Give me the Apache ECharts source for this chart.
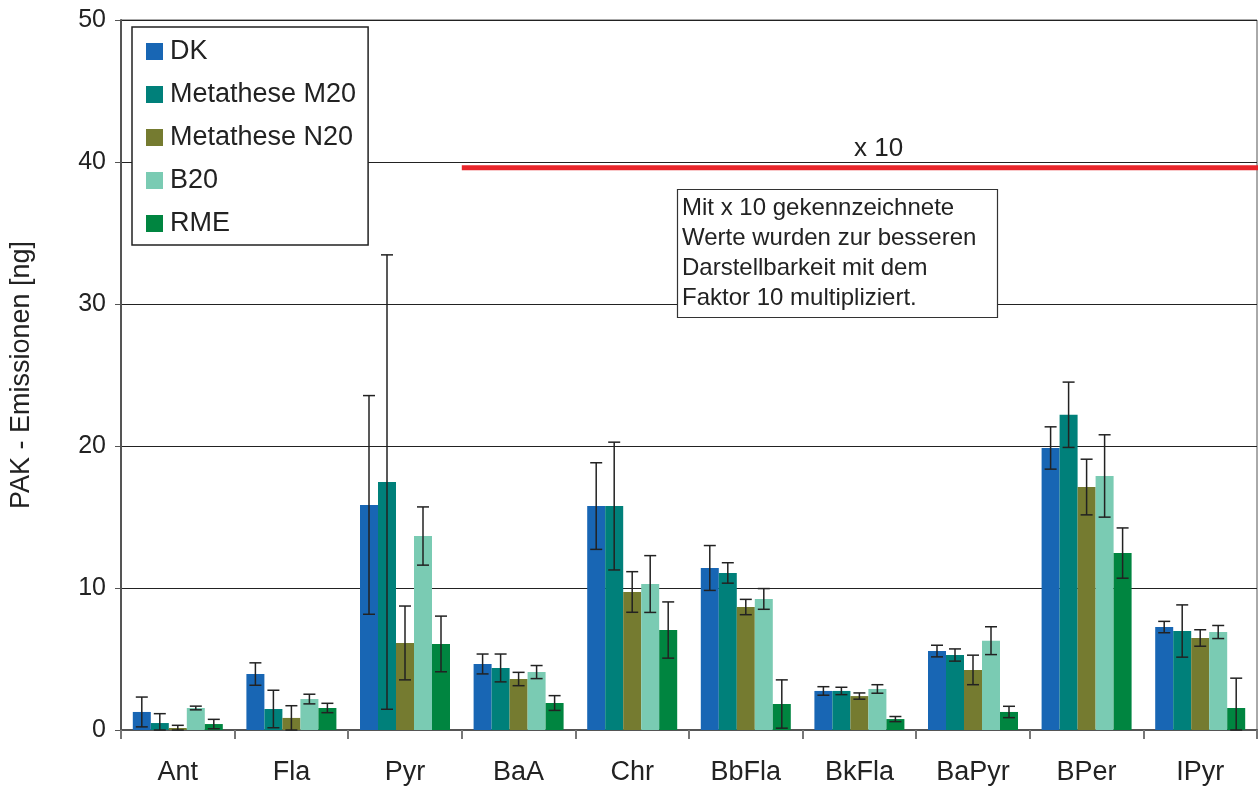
<!DOCTYPE html>
<html>
<head>
<meta charset="utf-8">
<script src="https://cdn.jsdelivr.net/npm/echarts@6/dist/echarts.min.js"></script>
<style>
  html, body { margin: 0; padding: 0; background: #fff; }
  #main { width: 1258px; height: 787px; }
</style>
</head>
<body>
<div id="main"></div>
<script>
var categories = ['Ant', 'Fla', 'Pyr', 'BaA', 'Chr', 'BbFla', 'BkFla', 'BaPyr', 'BPer', 'IPyr'];
var seriesNames = ['DK', 'Metathese M20', 'Metathese N20', 'B20', 'RME'];
var colors = ['#1866b4', '#00807a', '#757b30', '#7acbb3', '#008540'];

var dk = [1.27, 3.94, 15.85, 4.65, 15.77, 11.41, 2.75, 5.56, 19.86, 7.25];
var dkErr = [1.05, 0.79, 7.7, 0.7, 3.05, 1.58, 0.3, 0.41, 1.49, 0.4];
var m20 = [0.49, 1.48, 17.46, 4.37, 15.77, 11.06, 2.75, 5.28, 22.2, 6.97];
var m20Err = [0.66, 1.32, 16.0, 0.98, 4.5, 0.72, 0.26, 0.43, 2.3, 1.84];
var n20 = [0.14, 0.85, 6.13, 3.59, 9.72, 8.66, 2.39, 4.23, 17.11, 6.48];
var n20Err = [0.19, 0.86, 2.6, 0.47, 1.43, 0.54, 0.22, 1.04, 1.96, 0.58];
var b20 = [1.55, 2.18, 13.66, 4.08, 10.28, 9.23, 2.89, 6.29, 17.89, 6.9];
var b20Err = [0.13, 0.34, 2.05, 0.46, 2.0, 0.73, 0.3, 0.98, 2.9, 0.46];
var rme = [0.42, 1.55, 6.06, 1.9, 7.04, 1.83, 0.77, 1.27, 12.46, 1.55];
var rmeErr = [0.33, 0.33, 1.96, 0.52, 1.98, 1.7, 0.18, 0.4, 1.77, 2.1];

var yTicks = [0, 10, 20, 30, 40, 50];
var scaleNote = 'x 10';
var scaleLevel = 39.6;
var noteText = 'Mit x 10 gekennzeichnete\nWerte wurden zur besseren\nDarstellbarkeit mit dem\nFaktor 10 multipliziert.';

var values = [dk, m20, n20, b20, rme];
var errors = [dkErr, m20Err, n20Err, b20Err, rmeErr];

var barW = 18;
var font = '"Liberation Sans", Arial, sans-serif';

var myChart = echarts.init(document.getElementById('main'));

var series = [];
seriesNames.forEach(function (name, i) {
  series.push({
    name: name,
    type: 'bar',
    barWidth: barW,
    barGap: '0%',
    itemStyle: { color: colors[i] },
    data: values[i]
  });
});

seriesNames.forEach(function (name, i) {
  var offset = (i - 2) * barW;
  series.push({
    name: name + ' err',
    type: 'custom',
    z: 5,
    renderItem: function (params, api) {
      var x = api.value(0);
      var lo = Math.max(0, api.value(1));
      var hi = api.value(2);
      var pLo = api.coord([x, lo]);
      var pHi = api.coord([x, hi]);
      var cx = pLo[0] + offset;
      var cap = 6;
      var st = { stroke: '#222', lineWidth: 1.5 };
      return {
        type: 'group',
        children: [
          { type: 'line', shape: { x1: cx, y1: pLo[1], x2: cx, y2: pHi[1] }, style: st },
          { type: 'line', shape: { x1: cx - cap, y1: pHi[1], x2: cx + cap, y2: pHi[1] }, style: st },
          { type: 'line', shape: { x1: cx - cap, y1: pLo[1], x2: cx + cap, y2: pLo[1] }, style: st }
        ]
      };
    },
    data: values[i].map(function (v, k) {
      return [k, v - errors[i][k], v + errors[i][k]];
    })
  });
});

var option = {
  backgroundColor: '#fff',
  animation: false,
  textStyle: { fontFamily: font },
  grid: {
    left: 120, right: 1, top: 20, bottom: 57,
    show: true, borderColor: '#555', borderWidth: 1
  },
  legend: {
    data: seriesNames,
    orient: 'vertical',
    left: 132,
    top: 27,
    backgroundColor: '#fff',
    borderColor: '#222',
    borderWidth: 1.5,
    borderRadius: 0,
    padding: [11, 12, 8, 14],
    itemWidth: 17,
    itemHeight: 17,
    itemGap: 16,
    icon: 'rect',
    textStyle: { fontSize: 27, color: '#222', lineHeight: 27, fontFamily: font, padding: [0, 0, 0, 2] }
  },
  xAxis: {
    type: 'category',
    data: categories,
    axisLine: { lineStyle: { color: '#555', width: 2 } },
    axisTick: { show: true, length: 9, lineStyle: { color: '#777', width: 2 } },
    axisLabel: { fontSize: 27, color: '#222', margin: 29 }
  },
  yAxis: {
    type: 'value',
    min: 0,
    max: 50,
    interval: 10,
    name: 'PAK - Emissionen [ng]',
    nameLocation: 'middle',
    nameRotate: 90,
    nameGap: 86,
    nameTextStyle: { fontSize: 27, color: '#222' },
    axisLine: { show: true, lineStyle: { color: '#555', width: 2 } },
    axisTick: { show: true, length: 6, lineStyle: { color: '#555' } },
    axisLabel: {
      fontSize: 25, color: '#222', margin: 15,
      formatter: function (v) { return yTicks.indexOf(v) >= 0 ? String(v) : ''; }
    },
    splitLine: { lineStyle: { color: '#222', width: 1 } }
  },
  series: series
};

myChart.setOption(option);

// scale annotation: red line from the BaA boundary to the right edge
var yPix = myChart.convertToPixel({ yAxisIndex: 0 }, scaleLevel);
var startX = (myChart.convertToPixel({ xAxisIndex: 0 }, 'Pyr') + myChart.convertToPixel({ xAxisIndex: 0 }, 'BaA')) / 2;
var endX = 1258;

myChart.setOption({
  graphic: [
    {
      type: 'line', z: 10,
      shape: { x1: startX, y1: yPix, x2: endX, y2: yPix },
      style: { stroke: '#e8262b', lineWidth: 5 }
    },
    {
      type: 'text', z: 10,
      left: 854, top: yPix - 32,
      style: { text: scaleNote, font: '26px ' + font, fill: '#222' }
    },
    {
      type: 'rect', z: 10,
      shape: { x: 677.5, y: 189.5, width: 320, height: 128 },
      style: { fill: '#fff', stroke: '#333', lineWidth: 1.2 }
    },
    {
      type: 'text', z: 11,
      left: 682, top: 193,
      style: { text: noteText, font: '24px ' + font, fill: '#222', lineHeight: 30 }
    }
  ]
});
</script>
</body>
</html>
